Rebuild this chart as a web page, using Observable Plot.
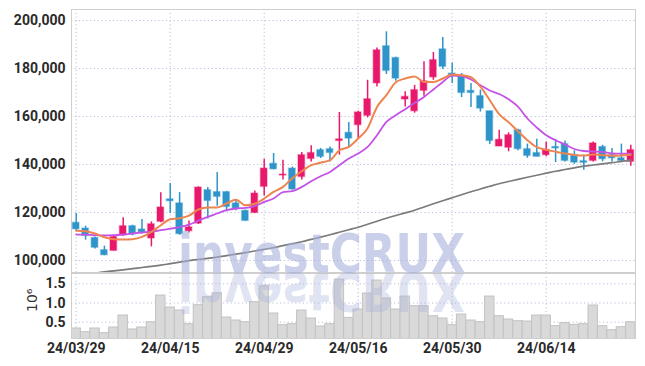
<!DOCTYPE html>
<html><head><meta charset="utf-8">
<script src="https://cdn.jsdelivr.net/npm/d3@7"></script>
<script src="https://cdn.jsdelivr.net/npm/@observablehq/plot@0.6"></script>
<style>
body{margin:0;background:#fff;}
#wrap{position:relative;width:645px;height:366px;overflow:hidden;}
#wrap svg{display:block;}
#wm{position:absolute;left:0;top:0;pointer-events:none;}
</style></head><body>
<div id="wrap"></div>
<script>
const dates = ["24/03/29","24/04/01","24/04/02","24/04/03","24/04/04","24/04/05","24/04/08","24/04/09","24/04/11","24/04/12",
"24/04/15","24/04/16","24/04/17","24/04/18","24/04/19","24/04/22","24/04/23","24/04/24","24/04/25","24/04/26",
"24/04/29","24/04/30","24/05/02","24/05/03","24/05/07","24/05/08","24/05/09","24/05/10","24/05/13","24/05/14",
"24/05/16","24/05/17","24/05/20","24/05/21","24/05/22","24/05/23","24/05/24","24/05/27","24/05/28","24/05/29",
"24/05/30","24/05/31","24/06/03","24/06/04","24/06/05","24/06/07","24/06/10","24/06/11","24/06/12","24/06/13",
"24/06/14","24/06/17","24/06/18","24/06/19","24/06/20","24/06/21","24/06/24","24/06/25","24/06/26","24/06/27"];

const opens = [115700,113300,109400,104300,104000,110500,114300,112900,109200,116100,
125500,123800,112200,115400,129300,128500,128500,123800,120700,119800,
130700,140300,135400,138300,134800,142300,146000,146400,149800,153200,
156400,160300,173800,189300,184400,167100,162200,170700,176300,188000,
177900,176900,170700,168500,162200,147500,147000,154300,146400,144800,
143900,147300,148500,143900,141400,141500,147300,143900,142600,141100];

const highs = [119600,114300,109800,106000,110300,117800,114700,117100,116100,128200,
132100,128300,116500,130700,130400,136700,128800,125100,121000,129000,
142200,144600,141800,138900,145000,147800,146700,147300,161700,157500,
162200,175100,188600,195300,184700,170300,173000,182800,186700,192900,
182300,177900,173800,171000,162200,154300,153200,154700,148500,150500,
149400,150400,149800,145700,143900,149400,148000,146700,148500,148000];

const lows = [112200,108500,104800,102000,104000,110100,110300,111000,105700,115700,
119600,110500,111500,115000,117300,122600,120300,120700,116400,119600,
126900,137800,133500,129300,133500,141100,142500,141100,143900,147300,
150800,159400,172300,177500,174700,164000,161400,168500,175100,179600,
173800,167900,163800,161900,148300,147500,145300,145700,142600,143200,
143200,140800,141100,140100,137600,141100,141100,141100,140800,139300];

const closes = [113000,110300,105300,102200,109800,114300,110900,111700,115100,122100,
124700,111000,113800,130400,124800,126500,122300,121700,116500,127900,
138300,138000,135800,129600,143900,144800,143200,144800,150500,150800,
161700,167200,187600,179000,175800,168200,171000,174700,183500,180700,
176900,169800,169800,163300,149800,150300,152200,146400,143600,143200,
146000,146700,141500,140800,140700,148800,142200,142600,141500,146000];

const volumes = [336000,240000,336000,214000,362000,674000,310000,362000,500000,1195000,
883000,805000,448000,943000,1151000,1255000,622000,544000,500000,1021000,
1438000,727000,422000,448000,805000,596000,388000,448000,1612000,612000,
831000,1247000,1586000,1117000,831000,1169000,917000,917000,656000,596000,
422000,700000,544000,500000,1169000,656000,570000,526000,518000,674000,
674000,396000,474000,430000,448000,935000,396000,292000,370000,500000];

const ma5 = [112400,112200,111250,109700,108900,108750,108900,109830,111920,114700,
117210,117630,118670,121250,122090,122090,123750,125340,123040,123670,
125840,128590,130670,134300,137210,139710,140760,141800,145960,147340,
150840,155130,164000,168880,174300,175840,176670,174420,174420,175840,
177510,177220,176380,172420,166800,160960,157630,153880,150130,147210,
146170,145340,144580,144000,143750,144210,143880,143670,143750,144090];

const ma10 = [110800,110800,110540,110420,110540,110830,111250,111670,112000,112630,
113250,113880,114920,116590,118170,119580,120960,121670,121920,122630,
124420,125840,128460,128880,130670,133040,135130,136920,139710,142500,
144590,147340,152210,157750,160540,163050,165630,168170,171260,174420,
177010,176800,175420,173050,170840,169380,167210,164090,159170,155420,
152210,150130,148380,146460,145630,145420,145250,144590,144500,144500];

const ma60 = [93670,94210,94710,95250,95710,96120,96580,97080,97540,98040,
98670,99290,99920,100420,100880,101380,102000,102630,103250,103960,
104630,105330,106170,107000,107830,108790,109750,110750,111790,112830,
113880,115130,116380,117630,118750,119830,120960,122290,123630,124920,
126170,127420,128670,129790,130920,132000,132920,133840,134710,135540,
136380,137210,137920,138630,139300,139800,140300,140750,141300,141800];

const priceTicks = [100000,120000,140000,160000,180000,200000];
const volumeTicks = [0.5,1.0,1.5];
const dateTicks = ["24/03/29","24/04/15","24/04/29","24/05/16","24/05/30","24/06/14"];
const volumeUnitLabel = "10⁶";
const watermark = ["invest","CRUX"];

const rows = dates.map((d,i)=>({date:d, open:opens[i], high:highs[i], low:lows[i], close:closes[i],
  vol:volumes[i]/1e6, ma5:ma5[i], ma10:ma10[i], ma60:ma60[i]}));

const UP = "#e8196b", DOWN = "#2f94c9";
const col = d => d.close >= d.open ? UP : DOWN;
const FONT = "Roboto,'Liberation Sans',sans-serif";
const GRID = {stroke:"#b9bfdc", strokeOpacity:1, strokeDasharray:"1.2,2.6", strokeWidth:1};
const W = 645, ML = 71, MR = 10;
const STYLE = {fontFamily:FONT, fontSize:"14px", fontWeight:"bold", color:"#2a2a2a", background:"transparent", overflow:"visible"};

const main = Plot.plot({
  width:W, height:273, marginLeft:ML, marginRight:MR, marginTop:9, marginBottom:1,
  style:STYLE,
  x:{type:"band", domain:dates, paddingInner:0.3, paddingOuter:0.15, round:false, axis:null},
  y:{domain:[95000,204600]},
  marks:[
    Plot.gridX(dateTicks, GRID),
    Plot.gridY(priceTicks, GRID),
    Plot.frame({stroke:"#cfcfcf"}),
    Plot.axisY(priceTicks, {tickSize:0, tickPadding:6, tickFormat:d3.format(","), fill:"#2a2a2a", label:null}),
    Plot.ruleX(rows, {x:"date", y1:"low", y2:"high", stroke:col, strokeWidth:1.5}),
    Plot.barY(rows, {x:"date", y1:"open", y2:"close", fill:col, stroke:col, strokeOpacity:0.35, strokeWidth:1.5}),
    Plot.line(rows, {x:"date", y:"ma60", stroke:"#7b7b7b", strokeWidth:1.7, curve:"monotone-x", clip:true}),
    Plot.line(rows, {x:"date", y:"ma10", stroke:"#c552e6", strokeWidth:1.8, curve:"monotone-x"}),
    Plot.line(rows, {x:"date", y:"ma5", stroke:"#ee8550", strokeWidth:2, curve:"monotone-x"})
  ]
});

const vol = Plot.plot({
  width:W, height:93, marginLeft:ML, marginRight:MR, marginTop:0, marginBottom:28,
  style:STYLE,
  x:{type:"band", domain:dates, paddingInner:0, paddingOuter:0, round:false},
  y:{domain:[0.075,1.77]},
  marks:[
    Plot.gridX(dateTicks, GRID),
    Plot.gridY(volumeTicks, GRID),
    Plot.barY(rows, {x:"date", y:"vol", fill:"#d9d9d9", stroke:"#c2c2c2", strokeWidth:1, clip:true}),
    Plot.frame({stroke:"#cfcfcf"}),
    Plot.axisX(dateTicks, {tickSize:0, tickPadding:5, fill:"#2a2a2a", label:null}),
    Plot.axisY(volumeTicks, {tickSize:0, tickPadding:6, tickFormat:d3.format(".1f"), label:null, fill:"#2a2a2a"}),
    Plot.text([volumeUnitLabel], {frameAnchor:"left", dx:-39, dy:6, rotate:-90, text:d=>d, fontWeight:"normal", fontSize:14, fontFamily:"'DejaVu Sans',sans-serif", fill:"#333"})
  ]
});

const wrap = document.getElementById("wrap");
wrap.appendChild(main);
wrap.appendChild(vol);

// watermark overlay (real text) with reflection
const ns = "http://www.w3.org/2000/svg";
const wm = document.createElementNS(ns,"svg");
wm.setAttribute("id","wm"); wm.setAttribute("width",W); wm.setAttribute("height",366);
function wmText(transform, opacity){
  const t = document.createElementNS(ns,"text");
  t.setAttribute("x",178); t.setAttribute("y",272);
  t.setAttribute("font-family","'DejaVu Sans',sans-serif");
  t.setAttribute("font-weight","bold");
  t.setAttribute("font-size","54");
  t.setAttribute("textLength","287");
  t.setAttribute("lengthAdjust","spacingAndGlyphs");
  t.setAttribute("fill","#a7b0da");
  t.setAttribute("fill-opacity",opacity);
  if (transform) t.setAttribute("transform",transform);
  watermark.forEach(w=>{const s=document.createElementNS(ns,"tspan"); s.textContent=w; t.appendChild(s);});
  wm.appendChild(t);
}
wmText(null, 0.6);
wmText("matrix(1,0,0,-1,0,545)", 0.35);
wrap.appendChild(wm);
</script>
</body></html>
